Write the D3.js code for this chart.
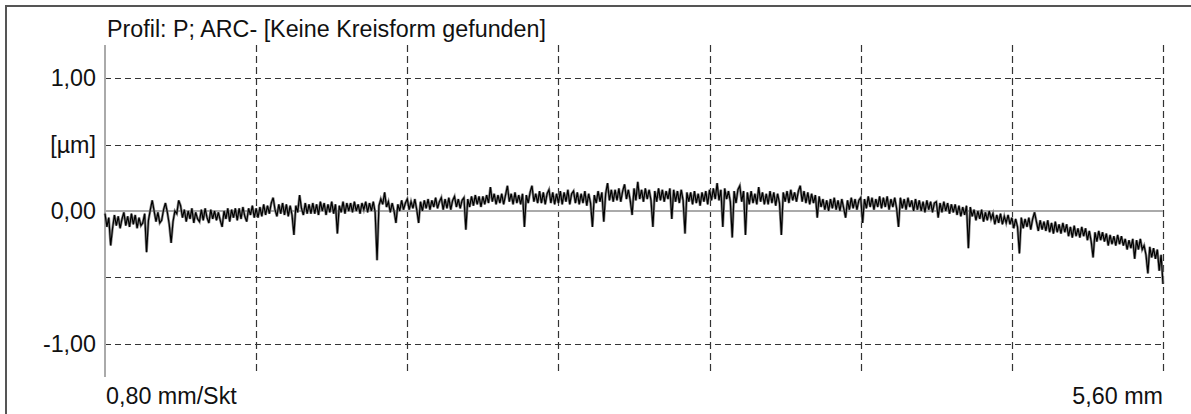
<!DOCTYPE html>
<html>
  <head>
    <meta charset="utf-8">
    <title>Profil</title>
    <script src="https://cdn.jsdelivr.net/npm/d3@7"></script>
    <style>
      body { margin: 0; background: #fff; }
      text { font-family: "Liberation Sans", Arial, sans-serif; fill: #111; font-size: 23.3px; }
    </style>
  </head>
  <body>
    <svg width="1191" height="414" id="mainsvg"></svg>
    <script>
        // profile data: one value (µm) every 0.01 mm, 0 .. 5.60 mm
        const stepMm = 0.01;
        const profile = [
            -0.02, -0.12, -0.05, -0.26, -0.13, -0.03, -0.11, -0.04, -0.13, -0.06,
            -0.01, -0.11, -0.04, -0.12, -0.02, -0.10, -0.03, -0.13, -0.05, -0.11,
            -0.09, -0.02, -0.31, -0.07, 0.01, 0.08, 0.00, -0.08, -0.01, -0.09,
            -0.07, 0.01, 0.06, -0.01, -0.10, -0.24, -0.08, 0.00, -0.02, 0.08,
            0.04, -0.05, 0.01, -0.08, 0.00, -0.06, 0.02, -0.09, -0.01, -0.06,
            -0.08, 0.01, -0.07, 0.02, -0.05, -0.09, 0.01, -0.06, 0.00, -0.07,
            -0.01, -0.07, -0.12, 0.00, -0.06, 0.02, -0.08, 0.01, -0.05, 0.02,
            -0.07, 0.02, -0.06, 0.03, -0.04, -0.08, 0.02, -0.03, 0.04, -0.05,
            0.02, -0.05, 0.03, -0.04, 0.05, -0.03, 0.04, -0.02, 0.06, 0.10,
            0.01, -0.04, 0.05, -0.02, 0.06, -0.03, 0.05, -0.04, 0.04, -0.03,
            -0.18, 0.04, -0.01, 0.12, 0.02, -0.03, 0.06, -0.02, 0.05, -0.02,
            0.06, -0.02, 0.05, -0.03, 0.07, 0.00, 0.06, -0.03, 0.05, -0.01,
            0.07, -0.02, 0.05, -0.17, 0.04, -0.01, 0.07, -0.02, 0.06, 0.00,
            0.06, -0.01, 0.07, 0.00, 0.05, -0.02, 0.06, 0.01, 0.07, -0.01,
            0.06, 0.00, 0.07, -0.01, -0.37, 0.04, 0.09, 0.05, 0.14, 0.03,
            0.07, -0.01, 0.06, 0.00, -0.09, 0.05, 0.00, 0.08, 0.01, 0.06,
            0.09, 0.01, 0.07, 0.02, 0.09, 0.01, -0.09, 0.07, 0.00, 0.08,
            0.02, 0.09, 0.01, 0.08, 0.03, 0.10, 0.02, 0.07, 0.10, 0.01,
            0.09, 0.02, 0.10, 0.01, 0.08, 0.11, 0.03, 0.09, 0.02, 0.08,
            0.10, -0.14, 0.09, 0.03, 0.11, 0.04, 0.12, 0.05, 0.11, 0.03,
            0.11, 0.05, 0.12, 0.06, 0.18, 0.07, 0.13, 0.05, 0.12, 0.06,
            0.13, 0.05, 0.12, 0.19, 0.07, 0.13, 0.05, 0.14, 0.06, 0.12,
            0.05, 0.13, -0.12, 0.12, 0.06, 0.14, 0.19, 0.07, 0.13, 0.06,
            0.15, 0.06, 0.14, 0.05, 0.13, 0.16, 0.06, 0.14, 0.05, 0.13,
            0.06, 0.15, 0.05, 0.14, 0.07, 0.16, 0.05, 0.13, 0.15, 0.06,
            0.14, 0.05, 0.13, 0.06, 0.15, 0.04, 0.13, 0.06, -0.12, 0.12,
            0.06, 0.15, 0.07, 0.14, -0.08, 0.13, 0.21, 0.08, 0.16, 0.07,
            0.16, 0.08, 0.17, 0.07, 0.15, 0.20, 0.09, 0.16, 0.08, -0.03,
            0.17, 0.08, 0.22, 0.09, 0.16, 0.07, 0.17, 0.09, 0.16, 0.08,
            -0.12, 0.15, 0.07, 0.17, 0.08, 0.16, 0.07, 0.15, 0.09, 0.17,
            -0.06, 0.16, 0.07, 0.15, 0.06, 0.16, 0.08, -0.17, 0.14, 0.07,
            0.14, 0.05, 0.15, 0.06, 0.13, 0.04, 0.14, 0.07, 0.15, 0.05,
            0.16, 0.08, 0.17, 0.09, 0.21, 0.08, 0.16, -0.12, 0.17, 0.09,
            0.15, 0.07, -0.20, 0.15, 0.06, 0.16, 0.19, 0.07, 0.15, -0.18,
            0.14, 0.05, 0.15, 0.06, 0.13, 0.05, 0.18, 0.07, 0.14, 0.05,
            0.13, 0.05, 0.15, 0.06, 0.14, 0.04, 0.13, 0.06, -0.18, 0.14,
            0.07, 0.15, 0.06, 0.16, 0.08, 0.14, 0.07, 0.15, 0.19, 0.07,
            0.15, 0.06, 0.14, 0.05, 0.13, 0.06, 0.12, -0.05, 0.11, 0.03,
            0.09, 0.01, 0.08, 0.00, 0.09, 0.02, 0.10, 0.01, 0.08, 0.00,
            0.09, 0.02, -0.05, 0.08, 0.01, 0.10, 0.02, 0.09, 0.01, 0.08,
            0.10, -0.09, 0.09, 0.02, 0.11, 0.03, 0.10, 0.01, 0.09, 0.03,
            0.11, 0.02, 0.10, 0.03, 0.11, 0.01, 0.09, 0.03, 0.10, 0.02,
            -0.12, 0.10, 0.02, 0.09, 0.01, 0.10, 0.03, 0.08, 0.00, 0.09,
            0.01, 0.08, 0.00, 0.07, -0.01, 0.08, 0.01, 0.07, -0.01, 0.06,
            0.07, -0.05, 0.06, -0.01, 0.07, 0.00, 0.06, -0.02, 0.05, -0.01,
            0.05, -0.03, 0.04, -0.04, 0.03, -0.03, 0.04, -0.28, 0.03, -0.04,
            0.01, -0.07, 0.00, -0.06, 0.01, -0.08, -0.01, -0.07, 0.00, -0.06,
            -0.02, -0.10, -0.03, -0.09, -0.02, -0.10, -0.04, -0.09, -0.03, -0.10,
            -0.05, -0.13, -0.06, -0.12, -0.32, -0.05, -0.13, -0.06, -0.12, -0.05,
            -0.14, -0.06, -0.01, -0.08, -0.15, -0.07, -0.14, -0.08, -0.15, -0.07,
            -0.16, -0.09, -0.17, -0.08, -0.16, -0.10, -0.17, -0.09, -0.16, -0.10,
            -0.19, -0.12, -0.20, -0.11, -0.19, -0.13, -0.20, -0.12, -0.19, -0.13,
            -0.22, -0.15, -0.23, -0.35, -0.16, -0.23, -0.15, -0.22, -0.16, -0.23,
            -0.17, -0.26, -0.18, -0.25, -0.19, -0.26, -0.18, -0.25, -0.19, -0.26,
            -0.21, -0.29, -0.22, -0.28, -0.21, -0.36, -0.22, -0.29, -0.21, -0.29,
            -0.26, -0.33, -0.47, -0.27, -0.35, -0.28, -0.36, -0.29, -0.45, -0.33,
            -0.55
        ];

        // axes
        const xTicks = [0.8, 1.6, 2.4, 3.2, 4.0, 4.8, 5.6];
        const yGrid = [1.0, 0.5, -0.5, -1.0];
        const yLabels = [
            {v: 1.0, t: '1,00'},
            {v: 0.5, t: '[µm]'},
            {v: 0.0, t: '0,00'},
            {v: -1.0, t: '-1,00'}
        ];
        const title = 'Profil: P; ARC- [Keine Kreisform gefunden]';
        const xScaleLabel = '0,80 mm/Skt';
        const xEndLabel = '5,60 mm';

        const svg = d3.select('#mainsvg');
        const width = +svg.attr('width');
        const height = +svg.attr('height');
        const plot = {left: 105, right: 1163, top: 45, bottom: 377};

        const x = d3.scaleLinear().domain([0, 5.6]).range([plot.left, plot.right]);
        const y = d3.scaleLinear().domain([-1.25, 1.25]).range([plot.bottom, plot.top]);

        // frame (top + left edge only)
        svg.append('path')
            .attr('d', `M6,${height} L6,6 L${width},6`)
            .attr('fill', 'none')
            .attr('stroke', '#555')
            .attr('stroke-width', 2);

        const g = svg.append('g');

        // horizontal dashed grid
        g.selectAll('.hgrid').data(yGrid).enter().append('line')
            .attr('class', 'hgrid')
            .attr('x1', plot.left).attr('x2', plot.right)
            .attr('y1', d => Math.round(y(d)) + 0.5).attr('y2', d => Math.round(y(d)) + 0.5)
            .attr('stroke', '#333').attr('stroke-width', 1.2)
            .attr('stroke-dasharray', '6,4');

        // vertical dashed grid
        g.selectAll('.vgrid').data(xTicks).enter().append('line')
            .attr('class', 'vgrid')
            .attr('x1', d => Math.round(x(d)) + 0.5).attr('x2', d => Math.round(x(d)) + 0.5)
            .attr('y1', plot.top).attr('y2', plot.bottom - 2)
            .attr('stroke', '#333').attr('stroke-width', 1.2)
            .attr('stroke-dasharray', '7,4');

        // left axis and zero line
        g.append('line')
            .attr('x1', plot.left).attr('x2', plot.left)
            .attr('y1', plot.top).attr('y2', plot.bottom)
            .attr('stroke', '#aaa').attr('stroke-width', 2);
        g.append('line')
            .attr('x1', plot.left).attr('x2', plot.right)
            .attr('y1', y(0)).attr('y2', y(0))
            .attr('stroke', '#aaa').attr('stroke-width', 2);

        // profile: grey halo underneath, black trace on top
        const line = d3.line()
            .x((d, i) => x(i * stepMm))
            .y(d => y(d));
        g.append('path')
            .datum(profile)
            .attr('d', line)
            .attr('fill', 'none')
            .attr('stroke', '#8a8a8a')
            .attr('stroke-width', 2.6);
        g.append('path')
            .datum(profile)
            .attr('d', line)
            .attr('fill', 'none')
            .attr('stroke', '#000')
            .attr('stroke-width', 1.2);

        // texts
        svg.append('text')
            .attr('x', 107).attr('y', 37)
            .text(title);

        svg.selectAll('.ylabel').data(yLabels).enter().append('text')
            .attr('class', 'ylabel')
            .attr('x', 96)
            .attr('y', d => y(d.v) + 8)
            .attr('text-anchor', 'end')
            .text(d => d.t);

        svg.append('text')
            .attr('x', 106).attr('y', 404)
            .text(xScaleLabel);
        svg.append('text')
            .attr('x', plot.right).attr('y', 404)
            .attr('text-anchor', 'end')
            .text(xEndLabel);
    </script>
  </body>
</html>
